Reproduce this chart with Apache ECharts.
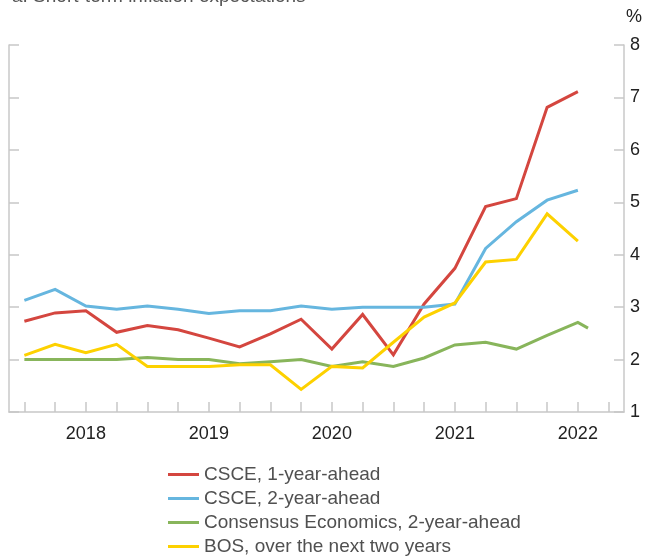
<!DOCTYPE html>
<html>
<head>
<meta charset="utf-8">
<script src="https://cdn.jsdelivr.net/npm/echarts@6/dist/echarts.min.js"></script>
<style>html,body{margin:0;padding:0;background:#fff;}#c{width:645px;height:557px;}</style>
</head>
<body>
<div id="c"></div>
<script>
// ---- data ----
const quarterIdx = [0,1,2,3,4,5,6,7,8,9,10,11,12,13,14,15,16,17,18];
const yearLabels = ['2018','2019','2020','2021','2022'];
const yearLabelPos = [2,6,10,14,18];
const csce1 = [2.73,2.89,2.93,2.52,2.65,2.57,2.41,2.24,2.49,2.77,2.20,2.86,2.09,3.06,3.74,4.92,5.07,6.81,7.11];
const csce2 = [3.13,3.34,3.02,2.96,3.02,2.96,2.88,2.93,2.93,3.02,2.96,3.00,3.00,3.00,3.06,4.12,4.63,5.04,5.23];
const consensusX = [0,1,2,3,4,5,6,7,8,9,10,11,12,13,14,15,16,17,18,18.33];
const consensus = [2.00,2.00,2.00,2.00,2.04,2.00,2.00,1.92,1.96,2.00,1.87,1.96,1.87,2.03,2.28,2.33,2.20,2.46,2.71,2.60];
const bos = [2.08,2.29,2.13,2.29,1.87,1.87,1.87,1.90,1.90,1.43,1.87,1.84,2.33,2.81,3.08,3.86,3.91,4.78,4.26];
const seriesNames = ['CSCE, 1-year-ahead','CSCE, 2-year-ahead','Consensus Economics, 2-year-ahead','BOS, over the next two years'];
const yTicks = [1,2,3,4,5,6,7,8];

const pair = (xs, ys) => ys.map((v, i) => [xs[i], v]);
const colors = ['#d4463f','#66b6df','#88b55b','#fdd100'];
const FONT = '"Liberation Sans", Arial, sans-serif';
const axisGray = '#c8c8c8';

const chart = echarts.init(document.getElementById('c'));
const mkLine = (name, data, color) => ({
  name, type: 'line', data, showSymbol: false, symbol: 'none',
  lineStyle: { color, width: 3, join: 'miter' }, itemStyle: { color },
  animation: false
});
const legends = seriesNames.map((n, i) => ({
  orient: 'vertical', left: 168, top: 465 + i * 24, padding: 0,
  itemWidth: 31, itemHeight: 3, icon: 'rect',
  textStyle: { fontFamily: FONT, fontSize: 19, color: '#505050' },
  data: [n]
}));
chart.setOption({
  animation: false,
  textStyle: { fontFamily: FONT },
  title: {
    text: 'a. Short-term inflation expectations',
    left: 7, top: -18,
    textStyle: { fontFamily: FONT, fontSize: 19, fontWeight: 'normal', color: '#555' }
  },
  grid: { left: 9, right: 17, top: 45, bottom: 145, containLabel: false },
  xAxis: {
    type: 'value', min: -0.5, max: 19.5,
    axisLine: { show: true, onZero: false, lineStyle: { color: axisGray, width: 1.5 } },
    axisTick: { show: true, inside: true, length: 10, customValues: quarterIdx.concat([19]),
      lineStyle: { color: axisGray, width: 1.5 } },
    axisLabel: { show: true, customValues: yearLabelPos, margin: 13,
      formatter: v => yearLabels[yearLabelPos.indexOf(Math.round(v))] || '',
      fontFamily: FONT, fontSize: 18, color: '#222' },
    splitLine: { show: false }
  },
  yAxis: [
    { type: 'value', position: 'right', min: 1, max: 8, interval: 1,
      name: '%', nameLocation: 'end', nameGap: 19,
      nameTextStyle: { fontFamily: FONT, fontSize: 18, color: '#222', align: 'left', padding: [0,0,0,2] },
      axisLine: { show: true, onZero: false, lineStyle: { color: axisGray, width: 1.5 } },
      axisTick: { show: true, inside: true, length: 10, lineStyle: { color: axisGray, width: 1.5 } },
      axisLabel: { show: true, margin: 6, fontFamily: FONT, fontSize: 18, color: '#222',
        formatter: v => yTicks.indexOf(v) >= 0 ? String(v) : '' },
      splitLine: { show: false } },
    { type: 'value', position: 'left', min: 1, max: 8, interval: 1,
      axisLine: { show: true, onZero: false, lineStyle: { color: axisGray, width: 1.5 } },
      axisTick: { show: true, inside: true, length: 10, lineStyle: { color: axisGray, width: 1.5 } },
      axisLabel: { show: false },
      splitLine: { show: false } }
  ],
  legend: legends,
  series: [
    mkLine(seriesNames[0], pair(quarterIdx, csce1), colors[0]),
    mkLine(seriesNames[1], pair(quarterIdx, csce2), colors[1]),
    mkLine(seriesNames[2], pair(consensusX, consensus), colors[2]),
    mkLine(seriesNames[3], pair(quarterIdx, bos), colors[3])
  ]
});
</script>
</body>
</html>
